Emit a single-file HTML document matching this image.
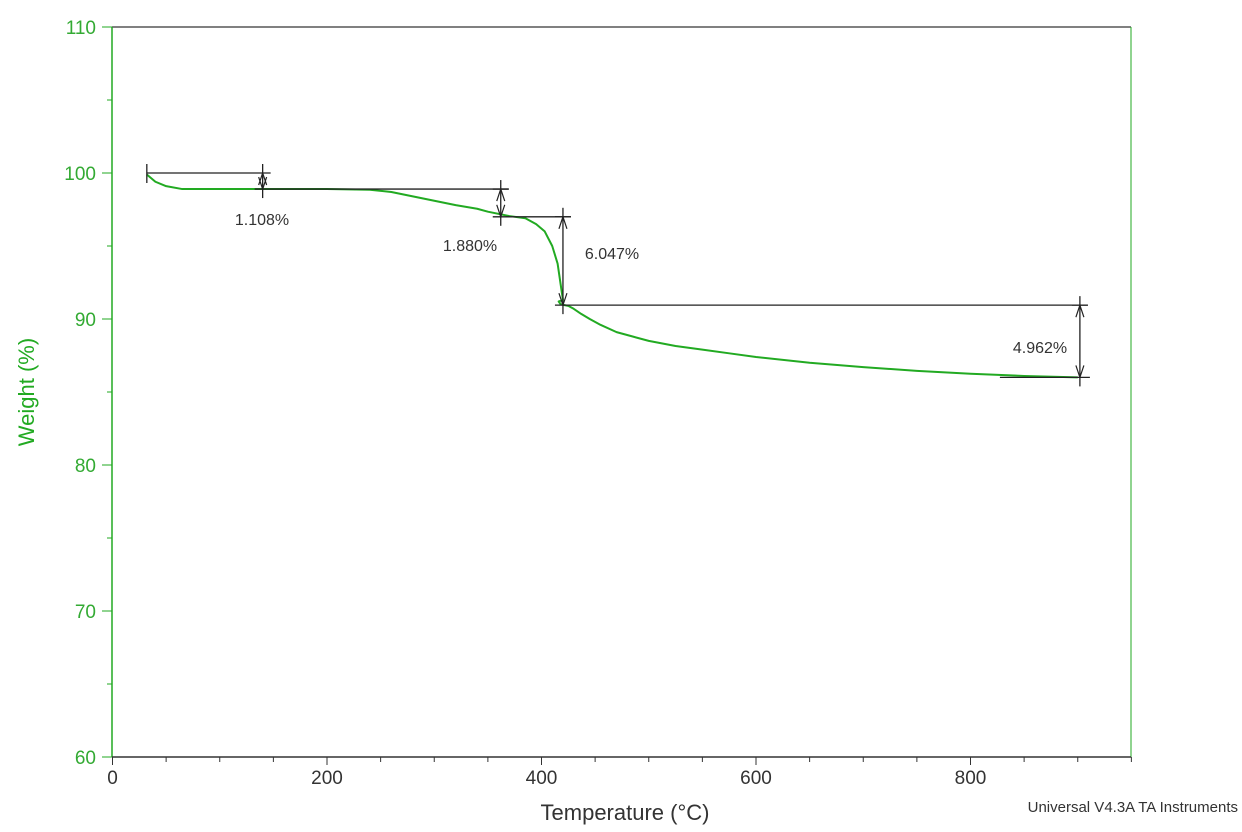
<!DOCTYPE html>
<html><head><meta charset="utf-8"><style>
body{margin:0;background:#fff;}
svg text{font-family:"Liberation Sans",sans-serif;}
</style></head><body>
<svg id="c" width="1242" height="827">
<g id="g"></g>
</svg>
<script>
const temps=[32,40,50,65,100,150,200,240,260,280,300,320,340,350,370,385,395,403,410,415,418,420,416,418,425,430,437,445,455,470,485,500,525,550,575,600,650,700,750,800,850,900];
const weights=[99.9,99.4,99.1,98.9,98.9,98.9,98.9,98.85,98.7,98.4,98.1,97.8,97.55,97.35,97.05,96.9,96.5,96.0,95.0,93.8,92.3,91.3,91.2,91.0,90.9,90.7,90.35,90.0,89.6,89.1,88.8,88.5,88.15,87.9,87.65,87.4,87.0,86.7,86.45,86.25,86.1,86.0];
const xTicks=[0,200,400,600,800];
const yTicks=[60,70,80,90,100,110];
const steps=[{t:140,a:100.0,b:98.9,l:"1.108%",lx:262,ly:225},{t:362,a:98.9,b:97.0,l:"1.880%",lx:470,ly:251},{t:420,a:97.0,b:90.95,l:"6.047%",lx:612,ly:259},{t:902,a:90.95,b:86.0,l:"4.962%",lx:1040,ly:353}];
const X=t=>112.5+t*1.0725, Y=w=>27+(110-w)*14.6;
const g=document.getElementById('g'),NS='http://www.w3.org/2000/svg';
function mk(tag,at,txt){const e=document.createElementNS(NS,tag);for(const k in at)e.setAttribute(k,at[k]);if(txt!=null)e.textContent=txt;g.appendChild(e);return e;}
let e;
e=mk('line',{x1:112,y1:27,x2:1131,y2:27,stroke:'#000'});


e=mk('line',{x1:1131,y1:27,x2:1131,y2:757,stroke:'#2a2'});


e=mk('line',{x1:112,y1:27,x2:112,y2:757,stroke:'#2a2','stroke-width':1.5});


e=mk('line',{x1:112,y1:757,x2:1131,y2:757,stroke:'#333','stroke-width':1.5});


for(let t=0;t<=950;t+=50){const maj=t%200==0;
e=mk('line',{x1:X(t),y1:757,x2:X(t),y2:757+(maj?8:5),stroke:'#333'});

}
xTicks.forEach(t=>{e=mk('text',{x:X(t),y:784,'font-size':19,'text-anchor':'middle',fill:'#333'},t);

});
for(let w=60;w<=110;w+=5){const maj=w%10==0;
e=mk('line',{x1:112-(maj?10:5),y1:Y(w),x2:112,y2:Y(w),stroke:'#2a2'});

}
yTicks.forEach(w=>{e=mk('text',{x:96,y:Y(w)+7,'font-size':19,'text-anchor':'end',fill:'#3a3'},w);

});
e=mk('text',{x:625,y:820,'font-size':22,'text-anchor':'middle',fill:'#333'},'Temperature (°C)');


e=mk('text',{x:34,y:392,'font-size':22,'text-anchor':'middle',fill:'#2a2',transform:'rotate(-90 34 392)'},'Weight (%)');


e=mk('text',{x:1238,y:812,'font-size':15,'text-anchor':'end',fill:'#333'},'Universal V4.3A TA Instruments');


e=mk('polyline',{points:temps.map((t,i)=>X(t)+','+Y(weights[i])).join(' '),fill:'none',stroke:'#2a2','stroke-width':2,'stroke-linejoin':'round'});


let prevStart=temps[0];
steps.forEach((s,i)=>{const x=X(s.t);
e=mk('line',{x1:i==0?X(prevStart):X(s.t)-8,y1:Y(s.a),x2:x+8,y2:Y(s.a),stroke:'#222','stroke-width':1.3});


const nx=i<3?X(steps[i+1].t)+8:x+10;
e=mk('line',{x1:i==3?x-80:x-8,y1:Y(s.b),x2:nx,y2:Y(s.b),stroke:'#222','stroke-width':1.3});


e=mk('line',{x1:x,y1:Y(s.a)-9,x2:x,y2:Y(s.b)+9,stroke:'#222','stroke-width':1.3});


e=mk('path',{d:`M${x-4},${Y(s.a)+12}L${x},${Y(s.a)}L${x+4},${Y(s.a)+12}M${x-4},${Y(s.b)-12}L${x},${Y(s.b)}L${x+4},${Y(s.b)-12}`,fill:'none',stroke:'#222','stroke-width':1.2});


e=mk('text',{x:s.lx,y:s.ly,'font-size':16,'text-anchor':'middle',fill:'#333'},s.l);


});
e=mk('line',{x1:X(prevStart),y1:Y(100.0)-9,x2:X(prevStart),y2:Y(100.0)+10,stroke:'#222','stroke-width':1.3});


</script>
</body></html>
